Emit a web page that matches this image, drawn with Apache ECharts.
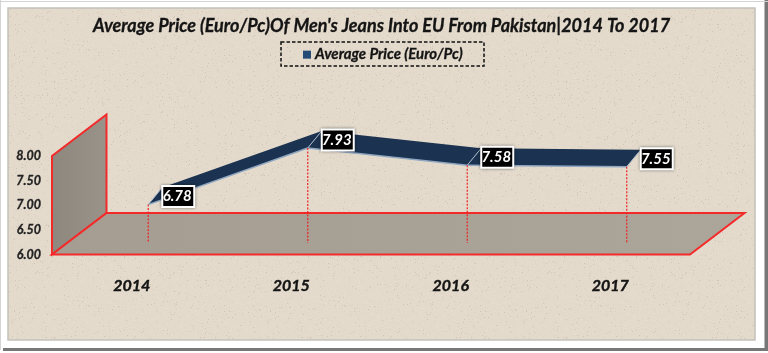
<!DOCTYPE html>
<html>
<head>
<meta charset="utf-8">
<style>
  html, body { margin: 0; padding: 0; background: #fff; }
  #main { width: 768px; height: 353px; }
</style>
</head>
<body>
<div id="main"></div>
<script src="https://cdn.jsdelivr.net/npm/echarts@6/dist/echarts.min.js"></script>
<script>
const years = ['2014', '2015', '2016', '2017']
const prices = [6.78, 7.93, 7.58, 7.55]
const yTicks = [6, 6.5, 7, 7.5, 8]

const font = 'Lato'
const ink = '#141414'
// how far the fake 3d chart is pushed back
const wallDepth = [54.5, 41.5]
const ribbonFront = [16.5, 11.5]
const ribbonBack = [30.5, 28.5]

// speckled paper tile for the panel
function paperTile() {
  const size = 256
  const c = document.createElement('canvas')
  c.width = size
  c.height = size
  const ctx = c.getContext('2d')
  ctx.fillStyle = '#e3dacc'
  ctx.fillRect(0, 0, size, size)
  let s = 17
  const next = () => {
    s = (Math.imul(s, 1103515245) + 12345) & 0x7fffffff
    return s >> 8
  }
  for (let i = 0; i < 9000; i++) {
    const x = next() % size
    const y = next() % size
    const k = next() % 10
    if (k === 0) ctx.fillStyle = 'rgba(140,125,100,0.22)'
    else if (k < 5) ctx.fillStyle = 'rgba(205,193,172,0.22)'
    else ctx.fillStyle = 'rgba(240,233,222,0.22)'
    ctx.fillRect(x, y, 1, 1)
  }
  return c
}

const myChart = echarts.init(document.getElementById('main'), null, { renderer: 'canvas' })

function shift(p, d) {
  return [p[0] + d[0], p[1] - d[1]]
}

function renderRoom(params) {
  const r = params.coordSys
  const fl = [r.x, r.y + r.height]
  const fr = [r.x + r.width, r.y + r.height]
  const tl = [r.x, r.y]
  const red = '#f42a2a'
  return {
    type: 'group',
    children: [
      {
        type: 'polygon',
        shape: { points: [fl, tl, shift(tl, wallDepth), shift(fl, wallDepth)] },
        style: {
          fill: new echarts.graphic.LinearGradient(0, 0, 1, 0, [
            { offset: 0, color: '#8d877d' },
            { offset: 1, color: '#99938a' }
          ]),
          stroke: red,
          lineWidth: 2
        }
      },
      {
        type: 'polygon',
        shape: { points: [fl, fr, shift(fr, wallDepth), shift(fl, wallDepth)] },
        style: {
          fill: new echarts.graphic.LinearGradient(0, 0, 1, 0, [
            { offset: 0, color: '#a59d91' },
            { offset: 1, color: '#aca599' }
          ]),
          stroke: red,
          lineWidth: 2
        }
      }
    ]
  }
}

function renderRibbon(params, api) {
  const i = params.dataIndex
  if (i >= prices.length - 1) return null
  const a = api.coord([i, prices[i]])
  const b = api.coord([i + 1, prices[i + 1]])
  const a1 = shift(a, ribbonFront)
  const b1 = shift(b, ribbonFront)
  return {
    type: 'group',
    children: [
      {
        type: 'polygon',
        shape: { points: [a1, b1, shift(b, ribbonBack), shift(a, ribbonBack)] },
        style: { fill: '#1b3350' }
      },
      {
        type: 'polyline',
        shape: { points: [a1, b1] },
        style: { fill: null, stroke: '#8fa6c0', lineWidth: 1.5 }
      }
    ]
  }
}

function renderDrop(params, api) {
  const i = params.dataIndex
  const top = shift(api.coord([i, prices[i]]), ribbonFront)
  const bottom = shift(api.coord([i, 6]), ribbonFront)
  const back = shift(api.coord([i, prices[i]]), ribbonBack)
  return {
    type: 'group',
    children: [
      {
        type: 'line',
        shape: { x1: top[0], y1: top[1], x2: bottom[0], y2: bottom[1] },
        style: { stroke: '#f02020', lineWidth: 1.2, lineDash: [2, 1.5] }
      },
      {
        type: 'line',
        shape: { x1: top[0], y1: top[1], x2: back[0], y2: back[1] },
        style: { stroke: '#a9bacd', lineWidth: 1 }
      }
    ]
  }
}

function renderTag(params, api) {
  const i = params.dataIndex
  const p = shift(api.coord([i, prices[i]]), ribbonFront)
  const cx = p[0] + 30
  const cy = p[1] - 8
  return {
    type: 'group',
    children: [
      {
        type: 'rect',
        shape: { x: cx - 16, y: cy - 10.5, width: 32, height: 21 },
        style: {
          fill: '#000',
          stroke: '#fff',
          lineWidth: 2,
          shadowBlur: 3,
          shadowColor: 'rgba(0,0,0,0.45)'
        }
      },
      {
        type: 'text',
        style: {
          x: cx - 1,
          y: cy,
          text: prices[i].toFixed(2),
          fill: '#fff',
          font: 'italic bold 15px ' + font,
          align: 'center',
          verticalAlign: 'middle'
        }
      }
    ]
  }
}

function ribbonData() {
  return prices.map((v, i) => [i, v])
}

myChart.setOption({
  animation: false,
  backgroundColor: '#fff',
  title: {
    text: "Average Price (Euro/Pc)Of Men's Jeans Into EU From Pakistan|2014 To 2017",
    left: 381.5,
    top: 17,
    textAlign: 'center',
    padding: 0,
    textStyle: {
      fontFamily: font,
      fontStyle: 'italic',
      fontWeight: 'bold',
      fontSize: 18,
      color: ink,
      textBorderColor: ink,
      textBorderWidth: 0.3
    }
  },
  legend: {
    data: [{ name: 'Average Price (Euro/Pc)', icon: 'rect' }],
    left: 303,
    top: 47,
    padding: 0,
    itemWidth: 8,
    itemHeight: 8,
    itemGap: 0,
    textStyle: {
      fontFamily: font,
      fontStyle: 'italic',
      fontWeight: 'bold',
      fontSize: 15,
      color: ink,
      textBorderColor: ink,
      textBorderWidth: 0.3,
      padding: [0, 0, 0, -1]
    }
  },
  graphic: [
    // outer frame of the picture
    { type: 'rect', z: -10, shape: { x: 764.5, y: 0, width: 3.5, height: 351 }, style: { fill: '#777' } },
    { type: 'rect', z: -10, shape: { x: 3, y: 348, width: 765, height: 3 }, style: { fill: '#777' } },
    { type: 'rect', z: -10, shape: { x: 0, y: 0, width: 1, height: 350 }, style: { fill: '#d4d4d4' } },
    { type: 'rect', z: -10, shape: { x: 0, y: 1, width: 768, height: 1 }, style: { fill: '#d4d4d4' } },
    {
      type: 'rect',
      z: -9,
      shape: { x: 8, y: 8, width: 747, height: 332 },
      style: {
        fill: { image: paperTile(), repeat: 'repeat' },
        stroke: '#c4c1ba',
        lineWidth: 1.5
      }
    },
    // dashed box round the legend
    {
      type: 'rect',
      z: 0,
      shape: { x: 281, y: 42, width: 203, height: 24 },
      style: { fill: null, stroke: '#111', lineWidth: 1.5, lineDash: [3.5, 2] }
    }
  ],
  grid: { left: 52, right: 78, top: 156, bottom: 98.5 },
  xAxis: {
    type: 'category',
    data: years,
    axisLine: { show: false },
    axisTick: { show: false },
    axisLabel: {
      margin: 23,
      fontFamily: font,
      fontStyle: 'italic',
      fontWeight: 'bold',
      fontSize: 16,
      color: ink,
      textBorderColor: ink,
      textBorderWidth: 0.4
    }
  },
  yAxis: {
    type: 'value',
    min: yTicks[0],
    max: yTicks[yTicks.length - 1],
    interval: yTicks[1] - yTicks[0],
    axisLine: { show: false },
    axisTick: { show: false },
    splitLine: { show: false },
    axisLabel: {
      margin: 11,
      padding: [2, 0, 0, 0],
      fontFamily: font,
      fontStyle: 'italic',
      fontWeight: 'bold',
      fontSize: 12.5,
      color: '#222',
      textBorderColor: '#222',
      textBorderWidth: 0.3,
      formatter: (v) => v.toFixed(2)
    }
  },
  series: [
    {
      name: 'room',
      type: 'custom',
      silent: true,
      z: 1,
      renderItem: renderRoom,
      data: [[0, 6]]
    },
    {
      name: 'Average Price (Euro/Pc)',
      type: 'custom',
      z: 2,
      itemStyle: { color: '#264a78' },
      renderItem: renderRibbon,
      encode: { x: 0, y: 1 },
      data: ribbonData()
    },
    {
      name: 'drop',
      type: 'custom',
      silent: true,
      z: 3,
      renderItem: renderDrop,
      encode: { x: 0, y: 1 },
      data: ribbonData()
    },
    {
      name: 'tag',
      type: 'custom',
      silent: true,
      z: 4,
      renderItem: renderTag,
      encode: { x: 0, y: 1 },
      data: ribbonData()
    }
  ]
})
</script>
</body>
</html>
